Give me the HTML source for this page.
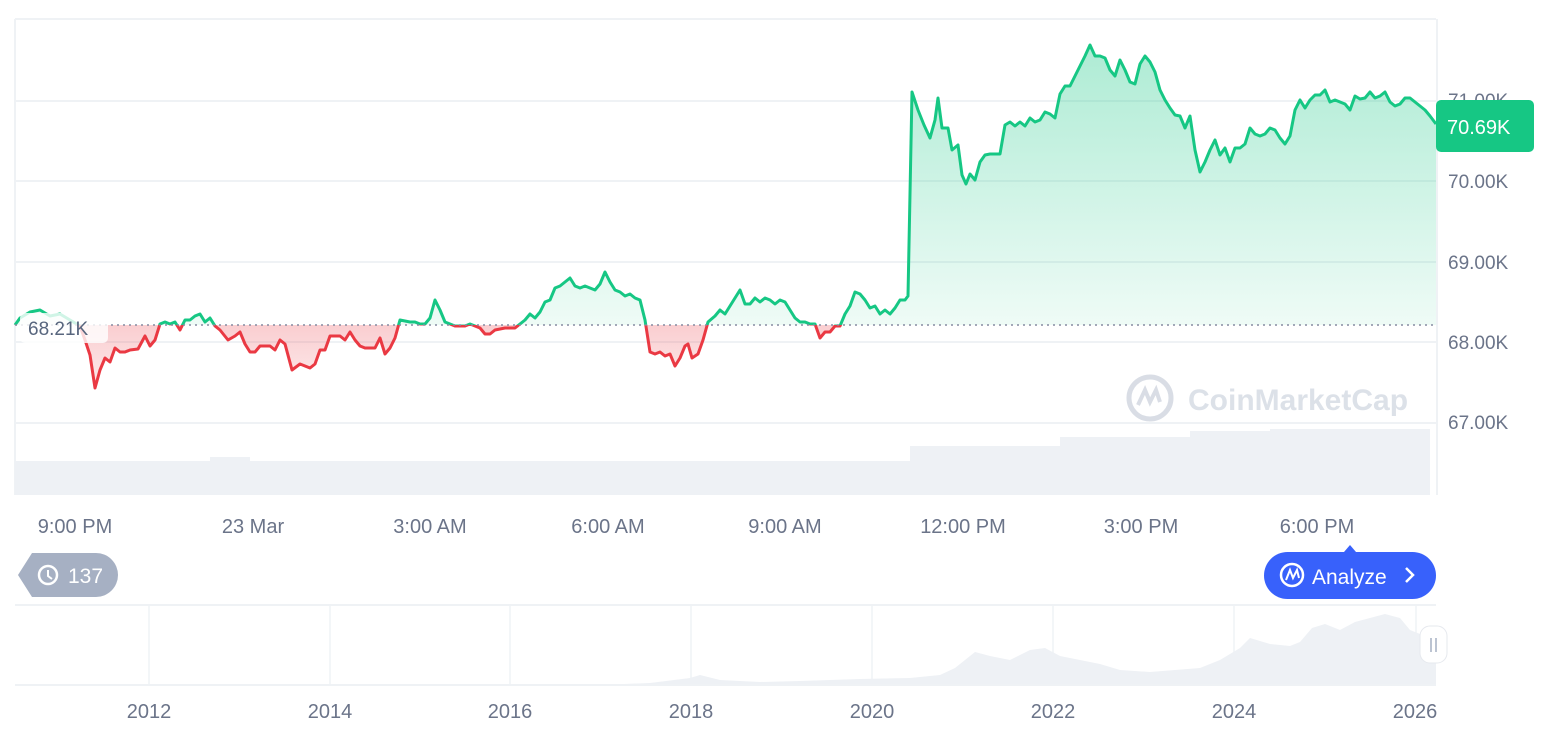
<!DOCTYPE html>
<html><head><meta charset="utf-8"><style>
body{margin:0;background:#fff;width:1566px;height:732px;overflow:hidden;font-family:"Liberation Sans",sans-serif}
svg text{font-family:"Liberation Sans",sans-serif}
</style></head><body>
<svg width="1566" height="732" viewBox="0 0 1566 732" xmlns="http://www.w3.org/2000/svg">
<defs>
<linearGradient id="gg" gradientUnits="userSpaceOnUse" x1="0" y1="45" x2="0" y2="325"><stop offset="0" stop-color="#16c784" stop-opacity="0.35"/><stop offset="1" stop-color="#16c784" stop-opacity="0.07"/></linearGradient>
<linearGradient id="rg" gradientUnits="userSpaceOnUse" x1="0" y1="325" x2="0" y2="390"><stop offset="0" stop-color="#ea3943" stop-opacity="0.25"/><stop offset="1" stop-color="#ea3943" stop-opacity="0.1"/></linearGradient>
<clipPath id="above"><rect x="0" y="0" width="1440" height="325"/></clipPath>
<clipPath id="below"><rect x="0" y="325" width="1440" height="200"/></clipPath>
<path id="ln" d="M15,325 L20,318 30,312 40,310 50,316 60,314 70,320 80,326 85,340 90,355 95,388 100,370 105,358 110,362 115,348 120,352 125,352 130,350 138,349 145,336 150,346 155,340 160,324 165,322 170,324 175,322 180,330 185,320 190,320 195,316 200,314 205,322 210,318 215,326 220,330 228,340 235,336 240,332 245,344 250,352 255,352 260,346 265,346 270,346 275,350 280,340 285,344 292,370 300,364 305,366 310,368 315,364 320,350 325,350 330,336 340,336 345,340 350,332 355,340 360,346 365,348 375,348 380,338 385,354 390,348 395,338 400,320 410,322 415,322 420,324 425,324 430,318 435,300 440,310 445,322 455,326 465,326 470,324 475,326 480,328 485,334 490,334 495,330 505,328 515,328 520,324 525,320 530,314 535,318 540,312 545,302 550,300 555,288 560,286 565,282 570,278 575,286 580,288 585,286 590,288 595,290 600,284 605,272 610,282 615,290 620,292 625,296 630,294 635,298 640,300 645,320 650,352 655,354 660,352 665,356 670,354 675,366 680,358 685,346 688,344 692,358 698,354 703,340 708,322 715,316 720,310 725,314 730,306 735,298 740,290 745,304 750,304 755,298 760,302 765,298 770,300 775,304 780,300 785,302 790,310 795,318 800,322 805,322 810,324 815,324 820,338 825,332 830,332 835,326 840,326 845,314 850,306 855,292 860,294 865,300 870,308 875,306 880,314 885,310 890,314 895,308 900,300 905,300 908,296 912,92 918,110 924,125 930,138 935,120 938,98 942,128 948,128 952,150 958,145 962,175 966,184 970,174 975,180 980,162 985,155 990,154 1000,154 1005,125 1010,122 1015,126 1020,122 1025,126 1030,118 1035,122 1040,120 1045,112 1050,114 1055,118 1060,94 1065,86 1070,86 1075,76 1080,66 1085,56 1090,45 1095,56 1100,56 1105,58 1110,70 1115,76 1120,60 1125,70 1130,82 1135,84 1140,64 1145,56 1150,62 1155,72 1160,90 1165,100 1170,108 1175,115 1180,116 1185,128 1190,116 1195,150 1200,172 1205,162 1210,150 1215,140 1220,155 1225,148 1230,162 1235,148 1240,148 1245,144 1250,128 1255,134 1260,136 1265,134 1270,128 1275,130 1280,138 1285,144 1290,136 1295,110 1300,100 1305,108 1310,100 1315,95 1320,95 1325,90 1330,102 1335,100 1340,102 1345,104 1350,110 1355,96 1360,99 1365,98 1370,92 1375,98 1380,96 1385,92 1390,102 1395,106 1400,104 1405,98 1410,98 1415,102 1420,106 1425,110 1430,116 1436,124"/>
<path id="ar" d="M15,325 L20,318 30,312 40,310 50,316 60,314 70,320 80,326 85,340 90,355 95,388 100,370 105,358 110,362 115,348 120,352 125,352 130,350 138,349 145,336 150,346 155,340 160,324 165,322 170,324 175,322 180,330 185,320 190,320 195,316 200,314 205,322 210,318 215,326 220,330 228,340 235,336 240,332 245,344 250,352 255,352 260,346 265,346 270,346 275,350 280,340 285,344 292,370 300,364 305,366 310,368 315,364 320,350 325,350 330,336 340,336 345,340 350,332 355,340 360,346 365,348 375,348 380,338 385,354 390,348 395,338 400,320 410,322 415,322 420,324 425,324 430,318 435,300 440,310 445,322 455,326 465,326 470,324 475,326 480,328 485,334 490,334 495,330 505,328 515,328 520,324 525,320 530,314 535,318 540,312 545,302 550,300 555,288 560,286 565,282 570,278 575,286 580,288 585,286 590,288 595,290 600,284 605,272 610,282 615,290 620,292 625,296 630,294 635,298 640,300 645,320 650,352 655,354 660,352 665,356 670,354 675,366 680,358 685,346 688,344 692,358 698,354 703,340 708,322 715,316 720,310 725,314 730,306 735,298 740,290 745,304 750,304 755,298 760,302 765,298 770,300 775,304 780,300 785,302 790,310 795,318 800,322 805,322 810,324 815,324 820,338 825,332 830,332 835,326 840,326 845,314 850,306 855,292 860,294 865,300 870,308 875,306 880,314 885,310 890,314 895,308 900,300 905,300 908,296 912,92 918,110 924,125 930,138 935,120 938,98 942,128 948,128 952,150 958,145 962,175 966,184 970,174 975,180 980,162 985,155 990,154 1000,154 1005,125 1010,122 1015,126 1020,122 1025,126 1030,118 1035,122 1040,120 1045,112 1050,114 1055,118 1060,94 1065,86 1070,86 1075,76 1080,66 1085,56 1090,45 1095,56 1100,56 1105,58 1110,70 1115,76 1120,60 1125,70 1130,82 1135,84 1140,64 1145,56 1150,62 1155,72 1160,90 1165,100 1170,108 1175,115 1180,116 1185,128 1190,116 1195,150 1200,172 1205,162 1210,150 1215,140 1220,155 1225,148 1230,162 1235,148 1240,148 1245,144 1250,128 1255,134 1260,136 1265,134 1270,128 1275,130 1280,138 1285,144 1290,136 1295,110 1300,100 1305,108 1310,100 1315,95 1320,95 1325,90 1330,102 1335,100 1340,102 1345,104 1350,110 1355,96 1360,99 1365,98 1370,92 1375,98 1380,96 1385,92 1390,102 1395,106 1400,104 1405,98 1410,98 1415,102 1420,106 1425,110 1430,116 1436,124 L1436,325 L15,325Z"/>
</defs>
<g stroke="#eff2f5" stroke-width="2">
<line x1="15" y1="19" x2="1436" y2="19"/>
<line x1="15" y1="101" x2="1436" y2="101"/>
<line x1="15" y1="181" x2="1436" y2="181"/>
<line x1="15" y1="262" x2="1436" y2="262"/>
<line x1="15" y1="342" x2="1436" y2="342"/>
<line x1="15" y1="423" x2="1436" y2="423"/>
<line x1="15" y1="19" x2="15" y2="495"/>
<line x1="1437" y1="19" x2="1437" y2="495"/>
</g>
<path d="M15,461 L210,461 210,457 250,457 250,461 910,461 910,446 1060,446 1060,437 1190,437 1190,431 1270,431 1270,429 1430,429 1430,495 15,495Z" fill="#eef1f5"/>
<g clip-path="url(#above)"><use href="#ar" fill="url(#gg)" stroke="none"/><use href="#ln" fill="none" stroke="#16c784" stroke-width="3" stroke-linejoin="round"/></g>
<g clip-path="url(#below)"><use href="#ar" fill="url(#rg)" stroke="none"/><use href="#ln" fill="none" stroke="#ea3943" stroke-width="3" stroke-linejoin="round"/></g>
<line x1="15" y1="325" x2="1436" y2="325" stroke="#858ca2" stroke-width="1.5" stroke-dasharray="2,4"/>
<rect x="20" y="313" width="88" height="30" rx="5" fill="#fff" fill-opacity="0.8"/>
<text x="28" y="335" font-size="19" fill="#58667e">68.21K</text>
<g opacity="0.9"><circle cx="1150" cy="398" r="21" fill="none" stroke="#d5dae3" stroke-width="5"/>
<path d="M1138,405 L1145,390 1150,402 1156,390 1160,402" fill="none" stroke="#d5dae3" stroke-width="4"/>
<text x="1188" y="410" font-size="30" font-weight="bold" fill="#d9dee6">CoinMarketCap</text></g>
<g font-size="19" fill="#6b7489"><text x="1448" y="107">71.00K</text><text x="1448" y="188">70.00K</text><text x="1448" y="269">69.00K</text><text x="1448" y="349">68.00K</text><text x="1448" y="429">67.00K</text></g>
<rect x="1436" y="100" width="98" height="52" rx="5" fill="#16c784"/>
<text x="1447" y="134" font-size="20" fill="#fff">70.69K</text>
<g font-size="20" fill="#6b7489" text-anchor="middle"><text x="75" y="533">9:00 PM</text><text x="253" y="533">23 Mar</text><text x="430" y="533">3:00 AM</text><text x="608" y="533">6:00 AM</text><text x="785" y="533">9:00 AM</text><text x="963" y="533">12:00 PM</text><text x="1141" y="533">3:00 PM</text><text x="1317" y="533">6:00 PM</text></g>
<path d="M32,553 L96,553 A22,22 0 0 1 96,597 L32,597 L18,575Z" fill="#a6b0c3"/>
<circle cx="48" cy="575" r="9" fill="none" stroke="#fff" stroke-width="2.5"/><path d="M48,570 L48,576 52,579" stroke="#fff" stroke-width="2" fill="none"/>
<text x="68" y="583" font-size="21" fill="#fff">137</text>
<path d="M1344,552 L1350,545 1356,552Z" fill="#3861fb"/>
<rect x="1264" y="552" width="172" height="47" rx="23.5" fill="#3861fb"/>
<circle cx="1292" cy="575" r="11" fill="none" stroke="#fff" stroke-width="2.5"/>
<path d="M1286,580 L1290,570 1293,578 1297,570 1299,578" fill="none" stroke="#fff" stroke-width="2"/>
<text x="1312" y="584" font-size="21" fill="#fff">Analyze</text>
<path d="M1406,568 L1413,575 1406,582" stroke="#fff" stroke-width="2.5" fill="none"/>
<line x1="15" y1="605" x2="1436" y2="605" stroke="#eff2f5" stroke-width="2"/>
<g stroke="#eff2f5" stroke-width="1.5"><line x1="149" y1="605" x2="149" y2="685"/><line x1="330" y1="605" x2="330" y2="685"/><line x1="510" y1="605" x2="510" y2="685"/><line x1="691" y1="605" x2="691" y2="685"/><line x1="872" y1="605" x2="872" y2="685"/><line x1="1053" y1="605" x2="1053" y2="685"/><line x1="1234" y1="605" x2="1234" y2="685"/><line x1="1416" y1="605" x2="1416" y2="685"/></g>
<path d="M15,685 L600,685 650,683 690,678 700,675 720,680 760,682 800,681 860,679 910,678 940,675 955,668 965,660 975,652 990,656 1010,660 1030,650 1045,648 1060,656 1080,660 1100,664 1120,670 1150,672 1200,668 1220,660 1240,648 1250,638 1270,644 1290,646 1300,642 1312,628 1325,624 1340,630 1355,622 1370,618 1385,614 1400,618 1410,630 1420,634 1436,636 1436,685Z" fill="#eef1f5"/>
<line x1="15" y1="685" x2="1436" y2="685" stroke="#eff2f5" stroke-width="2"/>
<rect x="1420" y="626" width="27" height="37" rx="10" fill="#fff" stroke="#e6e9ee"/>
<line x1="1431" y1="638" x2="1431" y2="652" stroke="#a6b0c3" stroke-width="1.5"/><line x1="1436" y1="638" x2="1436" y2="652" stroke="#a6b0c3" stroke-width="1.5"/>
<g font-size="20" fill="#6b7489" text-anchor="middle"><text x="149" y="718">2012</text><text x="330" y="718">2014</text><text x="510" y="718">2016</text><text x="691" y="718">2018</text><text x="872" y="718">2020</text><text x="1053" y="718">2022</text><text x="1234" y="718">2024</text><text x="1415" y="718">2026</text></g>
</svg>
</body></html>
